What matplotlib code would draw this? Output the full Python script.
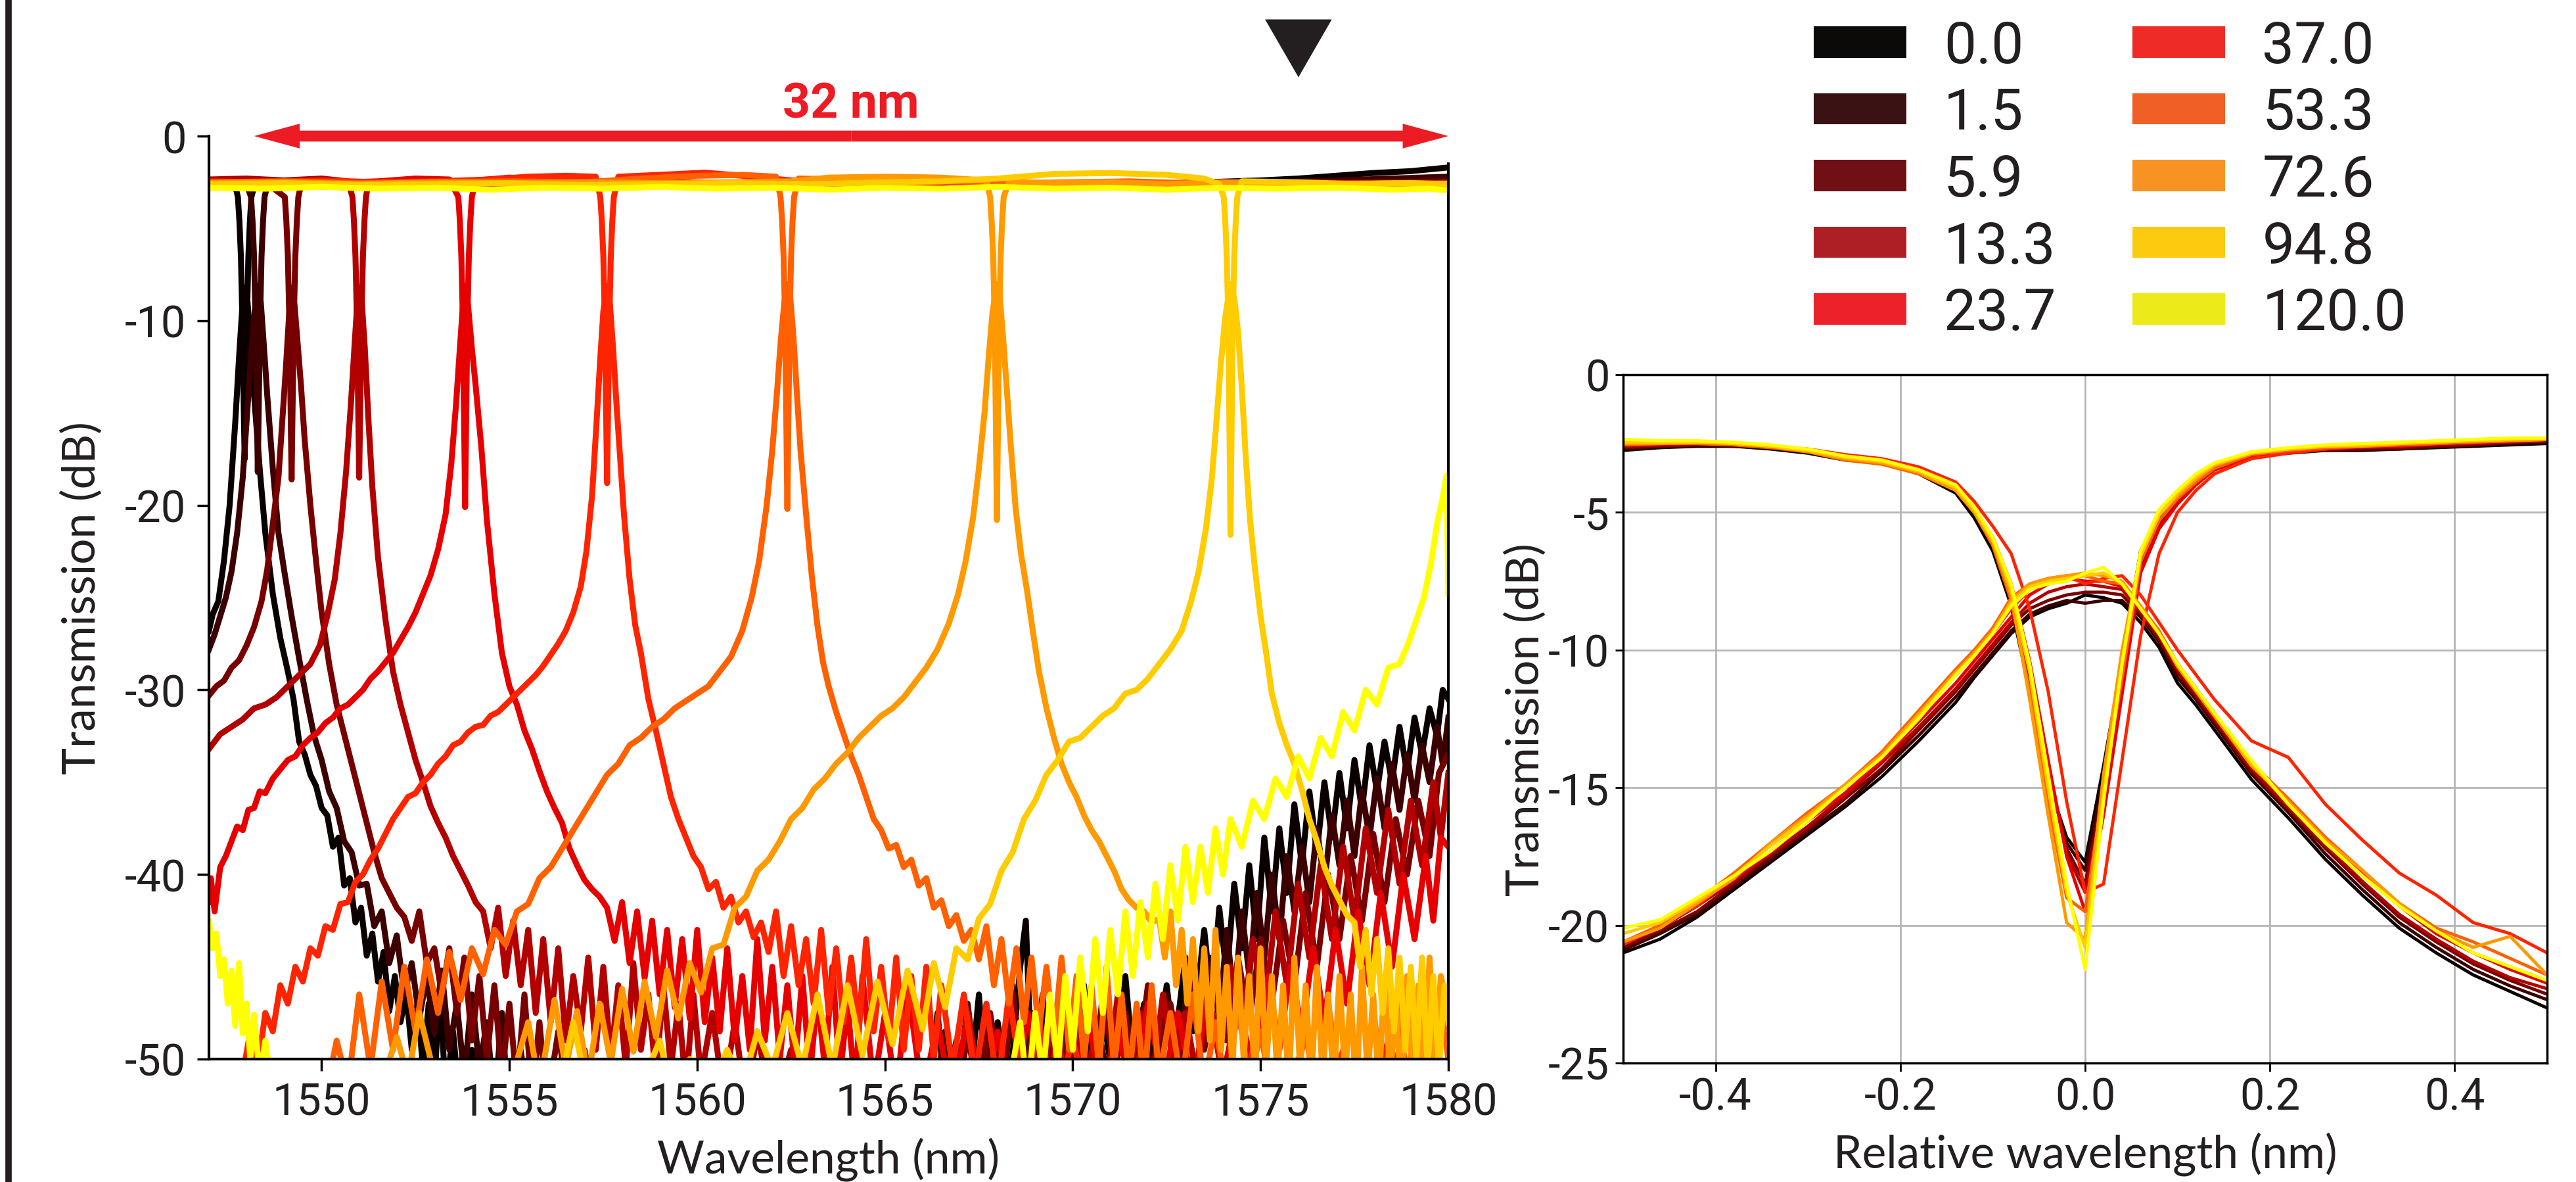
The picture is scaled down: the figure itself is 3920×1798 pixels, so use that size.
import matplotlib
matplotlib.use("Agg")
import matplotlib.pyplot as plt
from matplotlib import font_manager
from matplotlib.patches import Patch, FancyArrowPatch, ArrowStyle
from matplotlib.lines import Line2D


# Settings
# -----------------------------------------------------------------------------

available = {f.name for f in font_manager.fontManager.ttflist}
narrow = "Liberation Sans Narrow" if "Liberation Sans Narrow" in available else "Roboto"
label_font = "Lato"
ink = "#231f20"
red = "#ed1c24"
plt.rcParams["axes.unicode_minus"] = False


# Data
# -----------------------------------------------------------------------------

series = ["0.0", "1.5", "5.9", "13.3", "23.7", "37.0", "53.3", "72.6", "94.8", "120.0"]
line_colors = ["#0a0000", "#3d0000", "#780000", "#b30000", "#e60000",
               "#ff2400", "#ff6000", "#ff9900", "#ffcc00", "#ffff00"]
legend_colors = ["#0b0a08", "#3a1214", "#701014", "#ad1f24", "#ed2129",
                 "#ee2b27", "#f05f26", "#f69322", "#fcca0f", "#edea1a"]

# left panel: drop port (wavelength nm, dB)
drop_00 = [(1547.0, -26.8), (1547.1, -25.9), (1547.25, -25.2), (1547.4, -23.0), (1547.55, -20.0),
           (1547.7, -15.5), (1547.8, -12.0), (1547.88, -9.5), (1547.95, -8.2), (1548.02, -8.8),
           (1548.1, -11.0), (1548.2, -14.0), (1548.35, -18.0), (1548.5, -21.5), (1548.7, -24.8),
           (1548.9, -27.2), (1549.1, -29.0), (1549.25, -30.5), (1549.4, -32.8), (1549.55, -33.5),
           (1549.7, -34.6), (1549.85, -35.2), (1550.0, -36.4), (1550.15, -36.8), (1550.3, -38.5),
           (1550.45, -38.0), (1550.6, -40.6), (1550.75, -40.2), (1550.9, -42.6), (1551.05, -41.8),
           (1551.2, -44.4), (1551.35, -43.2), (1551.5, -45.8), (1551.65, -44.2), (1551.8, -47.4),
           (1551.95, -45.5), (1552.1, -48.0), (1552.25, -46.4), (1552.4, -49.5), (1552.55, -47.0),
           (1552.7, -50.5), (1552.85, -47.0), (1553.0, -51.5), (1553.15, -46.0), (1553.3, -52.0),
           (1553.5, -48.5), (1553.7, -53.0), (1554.0, -49.5), (1554.3, -54.0), (1554.8, -50.5),
           (1555.3, -55.0), (1556.2, -52.0), (1557.0, -56.0), (1558.0, -53.0), (1559.0, -56.0),
           (1560.0, -52.0), (1561.0, -55.0), (1562.0, -51.5), (1563.0, -54.0), (1564.0, -51.0),
           (1565.0, -53.0), (1565.8, -50.5), (1566.1, -52.5), (1566.4, -47.5), (1566.6, -52.0),
           (1566.9, -49.0), (1567.2, -53.0), (1567.5, -46.5), (1567.7, -51.5), (1568.0, -48.0),
           (1568.3, -52.0), (1568.6, -45.0), (1568.75, -42.5), (1568.9, -50.5), (1569.2, -46.5),
           (1569.4, -51.5), (1569.7, -47.5), (1570.0, -52.0), (1570.3, -46.0), (1570.5, -50.5),
           (1570.8, -47.5), (1571.1, -51.5), (1571.4, -45.5), (1571.6, -50.0), (1571.9, -47.0),
           (1572.2, -51.0), (1572.5, -46.0), (1572.7, -49.5), (1573.0, -44.5), (1573.2, -48.5),
           (1573.5, -43.0), (1573.7, -47.0), (1573.9, -41.8), (1574.1, -45.5), (1574.3, -40.5),
           (1574.5, -44.0), (1574.7, -39.5), (1574.9, -43.5), (1575.1, -38.0), (1575.3, -42.0),
           (1575.5, -37.5), (1575.7, -41.0), (1575.9, -36.2), (1576.1, -39.5), (1576.3, -35.5),
           (1576.5, -38.8), (1576.7, -35.0), (1576.9, -38.0), (1577.1, -34.5), (1577.3, -37.5),
           (1577.5, -33.8), (1577.7, -36.5), (1577.9, -33.0), (1578.1, -35.5), (1578.3, -32.8),
           (1578.5, -35.0), (1578.7, -32.0), (1578.9, -34.5), (1579.1, -31.5), (1579.3, -33.5),
           (1579.5, -31.0), (1579.7, -32.5), (1579.85, -30.0), (1580.0, -30.5)]
drop_15 = [(1547.0, -27.8), (1547.15, -27.0), (1547.3, -26.0), (1547.45, -25.0), (1547.6, -23.6),
           (1547.75, -21.5), (1547.9, -18.5), (1548.0, -15.5), (1548.1, -12.5), (1548.2, -9.8),
           (1548.3, -8.1), (1548.38, -9.0), (1548.45, -11.0), (1548.55, -14.0), (1548.7, -18.0),
           (1548.85, -21.5), (1549.0, -23.5), (1549.2, -26.0), (1549.4, -28.3), (1549.6, -30.5),
           (1549.8, -32.5), (1550.0, -33.8), (1550.2, -35.5), (1550.4, -36.4), (1550.6, -38.2),
           (1550.8, -38.8), (1551.0, -40.6), (1551.2, -40.5), (1551.4, -42.8), (1551.6, -42.0),
           (1551.8, -44.8), (1552.0, -43.3), (1552.2, -46.5), (1552.4, -44.8), (1552.6, -47.8),
           (1552.8, -45.5), (1553.0, -48.6), (1553.2, -45.2), (1553.4, -49.5), (1553.6, -47.0),
           (1553.8, -51.0), (1554.0, -46.5), (1554.2, -50.5), (1554.4, -48.0), (1554.6, -52.5),
           (1554.8, -47.5), (1555.0, -53.5), (1555.3, -49.5), (1555.6, -54.0), (1556.2, -51.0),
           (1557.0, -55.0), (1558.0, -52.0), (1559.0, -55.5), (1560.0, -52.5), (1561.0, -56.0),
           (1562.0, -53.0), (1563.0, -55.0), (1564.0, -52.0), (1565.0, -54.0), (1565.8, -51.0),
           (1566.2, -53.5), (1566.6, -48.5), (1566.9, -52.5), (1567.2, -47.0), (1567.5, -52.0),
           (1567.8, -49.0), (1568.1, -53.0), (1568.4, -46.0), (1568.6, -51.0), (1568.9, -47.5),
           (1569.2, -52.0), (1569.5, -48.0), (1569.8, -51.5), (1570.1, -46.5), (1570.4, -51.0),
           (1570.7, -48.5), (1571.0, -52.0), (1571.3, -47.0), (1571.6, -50.5), (1571.9, -48.0),
           (1572.2, -51.5), (1572.5, -46.5), (1572.8, -50.0), (1573.1, -45.5), (1573.4, -49.0),
           (1573.7, -44.5), (1573.9, -48.0), (1574.1, -43.0), (1574.3, -47.0), (1574.5, -42.0),
           (1574.7, -45.5), (1574.9, -41.0), (1575.1, -44.5), (1575.3, -40.0), (1575.5, -43.5),
           (1575.7, -39.0), (1575.9, -42.0), (1576.1, -38.5), (1576.3, -41.5), (1576.5, -37.5),
           (1576.7, -40.5), (1576.9, -36.8), (1577.1, -39.5), (1577.3, -36.0), (1577.5, -39.0),
           (1577.7, -35.5), (1577.9, -38.0), (1578.1, -34.8), (1578.3, -37.5), (1578.5, -34.0),
           (1578.7, -36.5), (1578.9, -33.5), (1579.1, -36.0), (1579.3, -33.0), (1579.5, -35.0),
           (1579.7, -32.0), (1579.85, -34.0), (1580.0, -31.5)]
drop_59 = [(1547.0, -30.3), (1547.2, -29.8), (1547.4, -29.5), (1547.6, -28.8), (1547.8, -28.4),
           (1548.0, -27.6), (1548.2, -26.6), (1548.4, -25.2), (1548.55, -23.5), (1548.7, -21.0),
           (1548.85, -18.5), (1548.95, -15.5), (1549.05, -12.5), (1549.13, -9.8), (1549.2, -8.2),
           (1549.28, -9.2), (1549.36, -11.2), (1549.45, -13.5), (1549.55, -16.5), (1549.7, -20.0),
           (1549.85, -23.0), (1550.0, -25.8), (1550.2, -28.6), (1550.4, -30.8), (1550.6, -32.4),
           (1550.8, -34.0), (1551.0, -35.6), (1551.2, -37.2), (1551.4, -38.8), (1551.6, -40.2),
           (1551.8, -41.0), (1552.0, -41.8), (1552.2, -42.3), (1552.4, -43.6), (1552.6, -42.0),
           (1552.8, -44.8), (1553.0, -44.0), (1553.2, -46.5), (1553.4, -44.0), (1553.6, -47.5),
           (1553.8, -44.5), (1554.0, -49.0), (1554.2, -45.5), (1554.4, -50.0), (1554.6, -46.0),
           (1554.8, -51.0), (1555.0, -47.0), (1555.2, -51.5), (1555.4, -46.5), (1555.6, -52.0),
           (1555.8, -48.0), (1556.0, -52.5), (1556.3, -48.5), (1556.6, -53.0), (1557.0, -49.5),
           (1557.4, -54.0), (1557.8, -50.5), (1558.3, -54.0), (1559.0, -51.5), (1560.0, -55.0),
           (1561.0, -52.5), (1562.0, -55.5), (1563.0, -52.5), (1564.0, -55.0), (1565.0, -52.0),
           (1566.0, -54.0), (1566.6, -50.5), (1566.9, -53.0), (1567.2, -48.5), (1567.5, -52.5),
           (1567.8, -47.5), (1568.1, -51.5), (1568.4, -46.5), (1568.7, -51.0), (1569.0, -48.0),
           (1569.3, -52.0), (1569.6, -47.0), (1569.9, -51.0), (1570.2, -48.5), (1570.5, -52.0),
           (1570.8, -46.5), (1571.1, -50.5), (1571.4, -47.5), (1571.7, -51.0), (1572.0, -46.0),
           (1572.3, -50.0), (1572.6, -47.0), (1572.9, -50.5), (1573.2, -45.5), (1573.5, -49.5),
           (1573.8, -46.0), (1574.1, -49.0), (1574.4, -44.5), (1574.7, -48.0), (1575.0, -43.5),
           (1575.3, -47.0), (1575.6, -42.5), (1575.9, -46.0), (1576.2, -41.0), (1576.5, -45.0),
           (1576.8, -40.0), (1577.1, -43.5), (1577.4, -39.0), (1577.7, -42.5), (1578.0, -37.8),
           (1578.3, -41.5), (1578.6, -37.0), (1578.9, -40.0), (1579.2, -36.0), (1579.5, -39.0),
           (1579.75, -34.5), (1580.0, -33.5)]
drop_133 = [(1547.0, -33.2), (1547.3, -32.4), (1547.6, -32.0), (1547.9, -31.6), (1548.2, -31.0),
            (1548.5, -30.8), (1548.8, -30.4), (1549.1, -29.8), (1549.4, -29.2), (1549.7, -28.6),
            (1549.95, -27.6), (1550.15, -26.0), (1550.35, -24.0), (1550.5, -21.5), (1550.65, -18.2),
            (1550.78, -14.5), (1550.88, -11.2), (1550.95, -9.0), (1551.0, -8.2), (1551.07, -9.0),
            (1551.15, -11.5), (1551.25, -15.5), (1551.35, -19.0), (1551.5, -22.8), (1551.7, -26.2),
            (1551.9, -29.0), (1552.1, -30.8), (1552.3, -32.3), (1552.5, -33.8), (1552.7, -35.0),
            (1552.9, -36.3), (1553.1, -37.2), (1553.3, -38.0), (1553.5, -39.0), (1553.7, -39.8),
            (1553.9, -40.6), (1554.1, -41.5), (1554.3, -42.0), (1554.5, -44.0), (1554.7, -41.8),
            (1554.9, -45.5), (1555.1, -42.5), (1555.3, -46.0), (1555.5, -43.0), (1555.7, -47.5),
            (1555.9, -43.5), (1556.1, -48.0), (1556.3, -44.0), (1556.5, -49.0), (1556.7, -45.5),
            (1556.9, -48.5), (1557.1, -44.5), (1557.3, -49.5), (1557.5, -45.0), (1557.7, -50.0),
            (1557.9, -46.0), (1558.1, -50.5), (1558.3, -44.8), (1558.5, -49.5), (1558.7, -46.5),
            (1558.9, -51.0), (1559.1, -46.0), (1559.3, -50.5), (1559.5, -47.0), (1559.7, -51.5),
            (1559.9, -46.5), (1560.1, -51.0), (1560.4, -47.5), (1560.7, -52.0), (1561.0, -48.0),
            (1561.3, -52.5), (1561.6, -48.5), (1562.0, -53.0), (1562.5, -49.5), (1563.0, -53.5),
            (1563.6, -50.0), (1564.2, -54.0), (1565.0, -51.0), (1566.0, -54.5), (1567.0, -51.5),
            (1568.0, -54.0), (1568.8, -50.0), (1569.1, -53.0), (1569.4, -48.0), (1569.7, -52.5),
            (1570.0, -47.5), (1570.3, -52.0), (1570.6, -48.5), (1570.9, -51.5), (1571.2, -46.5),
            (1571.5, -51.0), (1571.8, -47.5), (1572.1, -51.5), (1572.4, -46.5), (1572.7, -50.5),
            (1573.0, -47.5), (1573.3, -51.0), (1573.6, -46.0), (1573.9, -50.0), (1574.2, -45.0),
            (1574.5, -48.5), (1574.8, -43.5), (1575.1, -47.5), (1575.4, -42.0), (1575.7, -46.0),
            (1576.0, -40.5), (1576.3, -44.5), (1576.6, -39.5), (1576.9, -43.5), (1577.2, -38.5),
            (1577.5, -42.5), (1577.8, -37.5), (1578.1, -41.0), (1578.4, -36.5), (1578.7, -40.5),
            (1579.0, -36.0), (1579.3, -39.5), (1579.6, -35.0), (1579.8, -38.0), (1580.0, -34.5)]
drop_237 = [(1547.0, -41.5), (1547.05, -40.2), (1547.15, -42.0), (1547.3, -39.6), (1547.45, -39.0),
            (1547.6, -38.2), (1547.75, -37.4), (1547.9, -37.6), (1548.05, -36.5), (1548.2, -36.4),
            (1548.35, -35.5), (1548.5, -35.6), (1548.7, -34.8), (1548.9, -34.3), (1549.1, -33.8),
            (1549.3, -33.6), (1549.5, -33.0), (1549.7, -32.6), (1549.9, -32.3), (1550.1, -31.8),
            (1550.3, -31.5), (1550.5, -31.0), (1550.7, -30.8), (1550.9, -30.4), (1551.1, -30.0),
            (1551.3, -29.4), (1551.5, -29.0), (1551.7, -28.5), (1551.9, -28.0), (1552.1, -27.3),
            (1552.3, -26.6), (1552.5, -25.8), (1552.7, -24.8), (1552.9, -23.8), (1553.1, -22.4),
            (1553.3, -20.5), (1553.45, -17.8), (1553.58, -14.5), (1553.68, -11.5), (1553.76, -9.2),
            (1553.82, -8.1), (1553.9, -9.2), (1554.0, -11.5), (1554.1, -13.5), (1554.25, -16.8),
            (1554.4, -20.8), (1554.6, -24.8), (1554.8, -28.0), (1555.0, -29.8), (1555.2, -30.8),
            (1555.4, -32.2), (1555.6, -33.2), (1555.8, -34.4), (1556.0, -35.5), (1556.2, -36.4),
            (1556.4, -37.2), (1556.6, -38.6), (1556.8, -39.5), (1557.0, -40.3), (1557.2, -40.8),
            (1557.4, -41.2), (1557.6, -41.8), (1557.8, -43.6), (1558.0, -41.5), (1558.2, -44.8),
            (1558.4, -42.0), (1558.6, -45.6), (1558.8, -42.5), (1559.0, -46.5), (1559.2, -43.0),
            (1559.4, -47.2), (1559.6, -43.5), (1559.8, -47.8), (1560.0, -43.0), (1560.2, -48.0),
            (1560.4, -44.5), (1560.6, -48.5), (1560.8, -44.0), (1561.0, -49.0), (1561.2, -45.5),
            (1561.4, -49.5), (1561.6, -43.5), (1561.8, -49.0), (1562.0, -45.0), (1562.2, -50.0),
            (1562.4, -46.0), (1562.6, -50.5), (1562.8, -45.5), (1563.0, -51.0), (1563.2, -46.5),
            (1563.4, -50.5), (1563.6, -45.0), (1563.8, -51.0), (1564.0, -47.0), (1564.2, -51.5),
            (1564.4, -45.5), (1564.7, -51.5), (1565.0, -47.5), (1565.3, -52.0), (1565.6, -46.0),
            (1566.0, -52.0), (1566.4, -48.0), (1566.8, -52.5), (1567.2, -47.5), (1567.6, -52.5),
            (1568.0, -48.5), (1568.4, -53.0), (1568.8, -47.5), (1569.2, -52.5), (1569.6, -49.0),
            (1570.0, -53.0), (1570.4, -47.5), (1570.8, -52.5), (1571.2, -48.5), (1571.6, -52.0),
            (1572.0, -47.0), (1572.4, -51.5), (1572.8, -47.5), (1573.2, -51.5), (1573.6, -46.5),
            (1574.0, -51.0), (1574.4, -47.0), (1574.8, -50.5), (1575.2, -45.5), (1575.5, -49.5),
            (1575.8, -45.0), (1576.1, -48.5), (1576.4, -44.0), (1576.7, -48.0), (1577.0, -43.0),
            (1577.3, -47.0), (1577.6, -42.0), (1577.9, -46.0), (1578.2, -41.0), (1578.5, -45.0),
            (1578.8, -40.0), (1579.1, -43.5), (1579.4, -39.0), (1579.6, -42.5), (1579.8, -38.0),
            (1580.0, -38.5)]
drop_370 = [(1547.0, -53.0), (1547.5, -50.5), (1547.8, -52.0), (1548.1, -48.5), (1548.3, -50.5),
            (1548.5, -47.5), (1548.7, -48.5), (1548.9, -46.0), (1549.1, -47.0), (1549.3, -45.0),
            (1549.5, -45.8), (1549.7, -44.0), (1549.9, -44.4), (1550.1, -42.8), (1550.3, -43.0),
            (1550.5, -41.6), (1550.7, -41.5), (1550.9, -40.4), (1551.1, -40.0), (1551.3, -39.2),
            (1551.5, -38.6), (1551.7, -37.8), (1551.9, -37.0), (1552.1, -36.4), (1552.3, -35.8),
            (1552.5, -35.6), (1552.7, -35.0), (1552.9, -34.6), (1553.1, -34.0), (1553.3, -33.6),
            (1553.5, -33.0), (1553.7, -32.8), (1553.9, -32.3), (1554.1, -32.0), (1554.3, -31.9),
            (1554.5, -31.4), (1554.7, -31.2), (1554.9, -30.8), (1555.1, -30.4), (1555.3, -30.0),
            (1555.5, -29.6), (1555.7, -29.2), (1555.9, -28.7), (1556.1, -28.1), (1556.3, -27.5),
            (1556.5, -26.8), (1556.7, -25.8), (1556.9, -24.4), (1557.05, -22.5), (1557.2, -19.5),
            (1557.32, -15.5), (1557.42, -12.0), (1557.5, -9.5), (1557.6, -8.1), (1557.68, -9.2),
            (1557.76, -11.5), (1557.85, -14.5), (1557.95, -17.5), (1558.05, -20.5), (1558.2, -24.0),
            (1558.35, -26.5), (1558.5, -28.0), (1558.7, -30.5), (1558.9, -32.2), (1559.1, -34.0),
            (1559.3, -35.8), (1559.5, -37.0), (1559.7, -38.0), (1559.9, -39.0), (1560.1, -39.6),
            (1560.3, -40.8), (1560.5, -40.4), (1560.7, -41.8), (1560.9, -41.2), (1561.1, -42.6),
            (1561.3, -42.0), (1561.5, -43.4), (1561.7, -42.6), (1561.9, -44.2), (1562.1, -42.0),
            (1562.3, -45.5), (1562.5, -42.8), (1562.7, -46.0), (1562.9, -43.5), (1563.1, -47.0),
            (1563.3, -43.0), (1563.5, -47.5), (1563.7, -44.0), (1563.9, -48.0), (1564.1, -44.5),
            (1564.3, -48.5), (1564.5, -43.5), (1564.7, -48.5), (1564.9, -45.0), (1565.1, -49.0),
            (1565.3, -44.5), (1565.5, -49.5), (1565.7, -45.5), (1565.9, -49.5), (1566.1, -45.0),
            (1566.3, -50.0), (1566.5, -46.0), (1566.8, -50.5), (1567.1, -46.5), (1567.4, -51.0),
            (1567.7, -47.0), (1568.0, -51.5), (1568.3, -46.5), (1568.7, -52.0), (1569.1, -48.0),
            (1569.5, -52.5), (1570.0, -49.0), (1570.5, -53.0), (1571.0, -50.0), (1571.6, -53.5),
            (1572.2, -50.5), (1573.0, -54.0), (1573.6, -50.5), (1574.2, -53.5), (1574.8, -49.5),
            (1575.4, -53.0), (1576.0, -50.0), (1576.6, -53.5), (1577.2, -49.5), (1577.8, -53.0),
            (1578.4, -49.0), (1579.0, -52.5), (1579.5, -48.5), (1580.0, -51.5)]
drop_533 = [(1547.0, -55.0), (1548.0, -53.0), (1549.0, -54.0), (1549.6, -51.0), (1550.0, -53.0),
            (1550.4, -49.0), (1550.7, -51.5), (1551.0, -46.5), (1551.3, -50.5), (1551.6, -45.8),
            (1551.9, -49.5), (1552.2, -45.0), (1552.5, -48.5), (1552.8, -44.6), (1553.1, -47.5),
            (1553.4, -44.2), (1553.7, -46.8), (1554.0, -44.0), (1554.3, -45.4), (1554.6, -43.0),
            (1554.9, -43.8), (1555.2, -42.0), (1555.5, -41.6), (1555.8, -40.2), (1556.1, -39.6),
            (1556.4, -38.6), (1556.7, -37.6), (1557.0, -36.6), (1557.3, -35.6), (1557.6, -34.6),
            (1557.9, -34.0), (1558.2, -33.0), (1558.5, -32.6), (1558.8, -32.0), (1559.1, -31.6),
            (1559.4, -31.0), (1559.7, -30.6), (1560.0, -30.2), (1560.3, -29.8), (1560.6, -29.0),
            (1560.9, -28.2), (1561.2, -26.8), (1561.45, -25.0), (1561.65, -23.0), (1561.85, -20.0),
            (1562.0, -17.0), (1562.12, -14.0), (1562.22, -11.2), (1562.32, -9.0), (1562.4, -8.0),
            (1562.48, -8.8), (1562.56, -10.8), (1562.65, -13.8), (1562.75, -17.0), (1562.9, -20.5),
            (1563.05, -23.8), (1563.2, -26.5), (1563.35, -28.5), (1563.5, -29.8), (1563.7, -31.2),
            (1563.9, -32.4), (1564.1, -33.6), (1564.3, -34.6), (1564.5, -35.8), (1564.7, -37.0),
            (1564.9, -37.6), (1565.1, -38.6), (1565.3, -38.4), (1565.5, -39.6), (1565.7, -39.2),
            (1565.9, -40.6), (1566.1, -40.2), (1566.3, -41.8), (1566.5, -41.4), (1566.7, -42.8),
            (1566.9, -42.2), (1567.1, -43.6), (1567.3, -43.0), (1567.5, -44.6), (1567.7, -42.8),
            (1567.9, -46.0), (1568.1, -43.5), (1568.3, -47.0), (1568.5, -44.0), (1568.7, -48.0),
            (1568.9, -44.5), (1569.1, -48.5), (1569.3, -45.0), (1569.5, -49.0), (1569.7, -44.5),
            (1569.9, -49.5), (1570.1, -45.5), (1570.3, -50.0), (1570.5, -46.0), (1570.7, -50.5),
            (1570.9, -45.0), (1571.1, -50.5), (1571.3, -46.5), (1571.5, -51.0), (1571.7, -47.0),
            (1571.9, -51.5), (1572.1, -46.0), (1572.3, -51.0), (1572.6, -47.5), (1572.9, -51.5),
            (1573.2, -46.5), (1573.5, -51.5), (1573.8, -48.0), (1574.1, -52.0), (1574.4, -47.0),
            (1574.7, -51.5), (1575.0, -48.5), (1575.3, -52.0), (1575.6, -47.5), (1575.9, -51.5),
            (1576.2, -48.5), (1576.5, -52.5), (1576.8, -47.0), (1577.1, -51.0), (1577.4, -48.0),
            (1577.7, -52.0), (1578.0, -47.5), (1578.3, -51.5), (1578.6, -46.5), (1578.9, -51.0),
            (1579.2, -47.5), (1579.5, -51.5), (1579.8, -47.0), (1580.0, -50.0)]
drop_726 = [(1547.0, -56.0), (1550.0, -54.0), (1551.5, -52.0), (1552.0, -48.8), (1552.3, -51.0),
            (1552.6, -47.5), (1552.9, -50.0), (1553.3, -52.0), (1554.0, -54.0), (1555.0, -51.5),
            (1555.5, -48.0), (1555.8, -51.5), (1556.2, -46.8), (1556.5, -50.5), (1556.8, -47.4),
            (1557.1, -51.0), (1557.4, -47.0), (1557.7, -50.2), (1558.0, -46.2), (1558.3, -49.6),
            (1558.6, -45.8), (1558.9, -48.8), (1559.2, -45.2), (1559.5, -47.8), (1559.8, -44.8),
            (1560.1, -46.4), (1560.4, -44.0), (1560.7, -43.8), (1561.0, -41.8), (1561.3, -41.2),
            (1561.6, -39.8), (1561.9, -39.2), (1562.2, -38.2), (1562.5, -37.0), (1562.8, -36.4),
            (1563.1, -35.4), (1563.4, -34.8), (1563.7, -34.0), (1564.0, -33.4), (1564.3, -32.6),
            (1564.6, -32.0), (1564.9, -31.4), (1565.2, -31.0), (1565.5, -30.4), (1565.8, -29.6),
            (1566.1, -28.8), (1566.4, -27.8), (1566.7, -26.4), (1566.95, -24.8), (1567.15, -23.0),
            (1567.35, -20.6), (1567.5, -18.0), (1567.65, -15.0), (1567.76, -12.0), (1567.86, -9.6),
            (1567.98, -8.0), (1568.06, -8.8), (1568.14, -10.8), (1568.24, -13.6), (1568.35, -16.8),
            (1568.48, -20.2), (1568.62, -22.6), (1568.78, -24.6), (1568.95, -27.0), (1569.1, -29.0),
            (1569.3, -31.0), (1569.5, -32.6), (1569.7, -34.0), (1569.9, -35.0), (1570.1, -35.8),
            (1570.3, -36.8), (1570.5, -37.6), (1570.7, -38.2), (1570.9, -39.0), (1571.1, -39.8),
            (1571.3, -40.8), (1571.5, -41.4), (1571.7, -41.8), (1571.9, -42.0), (1572.1, -42.6),
            (1572.3, -42.4), (1572.45, -44.5), (1572.6, -42.0), (1572.75, -46.0), (1572.9, -43.0),
            (1573.05, -47.0), (1573.2, -43.5), (1573.35, -48.5), (1573.5, -44.0), (1573.65, -49.0),
            (1573.8, -43.0), (1573.95, -49.5), (1574.1, -45.0), (1574.25, -50.5), (1574.4, -44.5),
            (1574.55, -50.0), (1574.7, -45.5), (1574.85, -51.0), (1575.0, -44.0), (1575.15, -50.5),
            (1575.3, -45.5), (1575.45, -51.0), (1575.6, -46.0), (1575.75, -51.5), (1575.9, -44.5),
            (1576.05, -50.5), (1576.2, -46.0), (1576.35, -51.5), (1576.5, -45.0), (1576.65, -51.0),
            (1576.8, -46.5), (1576.95, -51.5), (1577.1, -45.5), (1577.25, -51.0), (1577.4, -46.5),
            (1577.55, -52.0), (1577.7, -45.0), (1577.85, -51.0), (1578.0, -46.5), (1578.15, -51.5),
            (1578.3, -45.5), (1578.45, -51.0), (1578.6, -47.0), (1578.75, -52.0), (1578.9, -45.5),
            (1579.05, -51.0), (1579.2, -46.0), (1579.35, -51.5), (1579.5, -44.5), (1579.65, -50.5),
            (1579.8, -45.5), (1580.0, -47.4)]
drop_948 = [(1547.0, -56.0), (1552.0, -54.0), (1555.0, -52.0), (1556.0, -50.5), (1556.3, -52.0),
            (1556.7, -48.0), (1557.0, -51.0), (1557.5, -53.0), (1558.5, -51.5), (1559.0, -49.0),
            (1559.3, -51.5), (1559.8, -50.0), (1560.3, -52.0), (1560.8, -49.5), (1561.2, -51.5),
            (1561.6, -48.5), (1562.0, -50.5), (1562.4, -47.5), (1562.8, -50.5), (1563.2, -46.5),
            (1563.6, -50.5), (1564.0, -46.0), (1564.4, -49.8), (1564.8, -45.8), (1565.2, -49.2),
            (1565.6, -45.2), (1566.0, -48.4), (1566.3, -44.8), (1566.6, -47.2), (1566.9, -44.0),
            (1567.2, -44.6), (1567.5, -42.4), (1567.8, -41.6), (1568.1, -39.8), (1568.4, -38.8),
            (1568.7, -37.0), (1569.0, -36.0), (1569.3, -34.6), (1569.6, -33.8), (1569.9, -32.8),
            (1570.2, -32.6), (1570.5, -32.0), (1570.8, -31.4), (1571.1, -31.0), (1571.4, -30.2),
            (1571.7, -30.0), (1572.0, -29.4), (1572.3, -28.6), (1572.6, -27.8), (1572.9, -26.8),
            (1573.15, -25.2), (1573.35, -23.6), (1573.55, -21.2), (1573.7, -18.6), (1573.82, -15.6),
            (1573.94, -12.4), (1574.06, -9.8), (1574.2, -8.0), (1574.3, -8.8), (1574.4, -10.6),
            (1574.5, -13.6), (1574.6, -17.2), (1574.72, -20.8), (1574.86, -23.6), (1575.0, -26.0),
            (1575.15, -28.0), (1575.3, -30.2), (1575.5, -31.8), (1575.7, -33.0), (1575.9, -34.0),
            (1576.1, -35.4), (1576.3, -37.0), (1576.5, -38.2), (1576.7, -39.6), (1576.9, -40.6),
            (1577.1, -41.4), (1577.3, -42.2), (1577.5, -42.6), (1577.65, -45.0), (1577.8, -43.0),
            (1577.95, -46.5), (1578.1, -43.5), (1578.25, -47.5), (1578.4, -44.0), (1578.55, -48.5),
            (1578.7, -44.5), (1578.85, -49.5), (1579.0, -45.0), (1579.15, -50.0), (1579.3, -44.5),
            (1579.45, -50.5), (1579.6, -45.5), (1579.75, -50.5), (1579.9, -46.0), (1580.0, -48.0)]
drop_1200 = [(1547.0, -42.5), (1547.1, -44.0), (1547.2, -43.2), (1547.3, -45.5), (1547.4, -44.6),
             (1547.5, -47.0), (1547.6, -45.2), (1547.7, -48.2), (1547.8, -44.8), (1547.9, -48.6),
             (1548.0, -47.0), (1548.1, -50.0), (1548.2, -47.6), (1548.35, -51.0), (1548.5, -49.0),
             (1548.7, -52.0), (1549.0, -50.5), (1549.4, -53.0), (1550.0, -55.0), (1553.0, -56.0),
             (1556.0, -55.0), (1560.0, -56.0), (1563.0, -54.0), (1564.5, -52.0), (1565.5, -50.2),
             (1566.0, -52.5), (1566.8, -51.0), (1567.5, -53.0), (1568.3, -51.5), (1568.6, -48.0),
             (1568.8, -52.0), (1569.0, -47.5), (1569.2, -51.0), (1569.4, -46.5), (1569.6, -50.5),
             (1569.8, -45.5), (1570.0, -49.5), (1570.2, -44.5), (1570.4, -48.5), (1570.6, -43.5),
             (1570.8, -47.5), (1571.0, -43.0), (1571.2, -46.5), (1571.4, -42.0), (1571.6, -45.5),
             (1571.8, -41.5), (1572.0, -44.5), (1572.2, -40.5), (1572.4, -43.5), (1572.6, -39.5),
             (1572.8, -42.5), (1573.0, -38.5), (1573.2, -41.5), (1573.4, -38.5), (1573.6, -41.0),
             (1573.8, -37.5), (1574.0, -40.0), (1574.2, -37.0), (1574.5, -38.5), (1574.8, -36.0),
             (1575.1, -37.0), (1575.4, -34.8), (1575.7, -35.8), (1576.0, -33.6), (1576.3, -34.8),
             (1576.6, -32.6), (1576.9, -33.6), (1577.2, -31.2), (1577.5, -32.2), (1577.8, -30.0),
             (1578.1, -30.8), (1578.4, -28.8), (1578.7, -28.6), (1578.95, -27.4), (1579.15, -26.2),
             (1579.35, -25.0), (1579.55, -23.0), (1579.7, -21.0), (1579.85, -19.6), (1579.95, -18.4),
             (1580.0, -24.8)]

# left panel: through port (wavelength nm, dB)
thru_00 = [(1547.0, -2.62), (1547.4, -2.55), (1547.7, -2.7), (1547.77, -3.3), (1547.81, -4.6),
           (1547.85, -6.5), (1547.89, -10.0), (1547.92, -14.0), (1547.95, -17.5), (1547.98, -14.0),
           (1548.01, -10.0), (1548.05, -6.5), (1548.09, -4.6), (1548.13, -3.3), (1548.2, -2.75),
           (1549.5, -2.7), (1551.0, -2.8), (1552.5, -2.65), (1554.0, -2.8), (1555.5, -2.7),
           (1557.0, -2.75), (1558.5, -2.65), (1560.0, -2.75), (1561.5, -2.7), (1563.0, -2.65),
           (1564.5, -2.75), (1566.0, -2.7), (1567.5, -2.6), (1569.0, -2.7), (1570.5, -2.65),
           (1572.0, -2.6), (1573.5, -2.5), (1575.0, -2.4), (1576.0, -2.3), (1577.0, -2.15),
           (1578.0, -2.0), (1579.0, -1.9), (1580.0, -1.7)]
thru_15 = [(1547.0, -2.55), (1547.5, -2.65), (1548.0, -2.6), (1548.12, -3.3), (1548.16, -4.6),
           (1548.2, -6.5), (1548.24, -10.0), (1548.27, -14.0), (1548.3, -18.2), (1548.33, -14.0),
           (1548.36, -10.0), (1548.4, -6.5), (1548.44, -4.6), (1548.48, -3.3), (1548.55, -2.7),
           (1550.0, -2.65), (1551.5, -2.75), (1553.0, -2.6), (1554.5, -2.7), (1556.0, -2.65),
           (1557.5, -2.75), (1559.0, -2.6), (1560.5, -2.7), (1562.0, -2.65), (1563.5, -2.7),
           (1565.0, -2.6), (1566.5, -2.7), (1568.0, -2.65), (1569.5, -2.6), (1571.0, -2.7),
           (1572.5, -2.6), (1574.0, -2.55), (1575.5, -2.5), (1577.0, -2.4), (1578.5, -2.3),
           (1580.0, -2.2)]
thru_59 = [(1547.0, -2.6), (1547.8, -2.55), (1548.6, -2.65), (1549.02, -3.3), (1549.06, -4.6),
           (1549.1, -6.5), (1549.14, -10.0), (1549.17, -14.2), (1549.2, -18.6), (1549.23, -14.2),
           (1549.26, -10.0), (1549.3, -6.5), (1549.34, -4.6), (1549.38, -3.3), (1549.45, -2.65),
           (1551.0, -2.55), (1552.5, -2.65), (1554.0, -2.6), (1555.5, -2.7), (1557.0, -2.6),
           (1558.5, -2.65), (1560.0, -2.55), (1561.5, -2.65), (1563.0, -2.6), (1564.5, -2.7),
           (1566.0, -2.6), (1567.5, -2.65), (1569.0, -2.55), (1570.5, -2.65), (1572.0, -2.6),
           (1573.5, -2.55), (1575.0, -2.6), (1576.5, -2.5), (1578.0, -2.5), (1580.0, -2.45)]
thru_133 = [(1547.0, -2.35), (1548.0, -2.3), (1549.0, -2.4), (1550.0, -2.3), (1550.7, -2.45),
            (1550.82, -3.3), (1550.86, -4.6), (1550.9, -6.5), (1550.94, -10.0), (1550.97, -14.2),
            (1551.0, -18.5), (1551.03, -14.2), (1551.06, -10.0), (1551.1, -6.5), (1551.14, -4.6),
            (1551.18, -3.3), (1551.25, -2.5), (1552.5, -2.45), (1554.0, -2.55), (1555.5, -2.6),
            (1557.0, -2.5), (1558.5, -2.6), (1560.0, -2.55), (1561.5, -2.65), (1563.0, -2.55),
            (1564.5, -2.6), (1566.0, -2.5), (1567.5, -2.65), (1569.0, -2.6), (1570.5, -2.55),
            (1572.0, -2.65), (1573.5, -2.6), (1575.0, -2.7), (1576.5, -2.6), (1578.0, -2.65),
            (1580.0, -2.6)]
thru_237 = [(1547.0, -2.5), (1548.5, -2.45), (1550.0, -2.55), (1551.5, -2.45), (1552.5, -2.3),
            (1553.4, -2.35), (1553.64, -3.3), (1553.68, -4.6), (1553.72, -6.5), (1553.76, -10.0),
            (1553.79, -15.0), (1553.82, -20.1), (1553.85, -15.0), (1553.88, -10.0), (1553.92, -6.5),
            (1553.96, -4.6), (1554.0, -3.3), (1554.1, -2.4), (1555.0, -2.25), (1556.0, -2.35),
            (1557.5, -2.5), (1559.0, -2.45), (1560.5, -2.55), (1562.0, -2.5), (1563.5, -2.55),
            (1565.0, -2.45), (1566.5, -2.55), (1568.0, -2.5), (1569.5, -2.6), (1571.0, -2.5),
            (1572.5, -2.55), (1574.0, -2.5), (1575.5, -2.6), (1577.0, -2.55), (1578.5, -2.6),
            (1580.0, -2.55)]
thru_370 = [(1547.0, -2.45), (1548.5, -2.5), (1550.0, -2.4), (1551.5, -2.5), (1553.0, -2.45),
            (1554.5, -2.35), (1555.5, -2.2), (1556.5, -2.15), (1557.3, -2.2), (1557.42, -3.3),
            (1557.46, -4.6), (1557.5, -6.5), (1557.54, -10.0), (1557.57, -14.3), (1557.6, -18.8),
            (1557.63, -14.3), (1557.66, -10.0), (1557.7, -6.5), (1557.74, -4.6), (1557.78, -3.3),
            (1557.9, -2.2), (1559.0, -2.1), (1560.2, -1.98), (1561.2, -2.15), (1562.5, -2.4),
            (1564.0, -2.5), (1565.5, -2.45), (1567.0, -2.55), (1568.5, -2.5), (1570.0, -2.6),
            (1571.5, -2.5), (1573.0, -2.55), (1574.5, -2.5), (1576.0, -2.6), (1577.5, -2.55),
            (1579.0, -2.6), (1580.0, -2.55)]
thru_533 = [(1547.0, -2.5), (1549.0, -2.45), (1551.0, -2.55), (1553.0, -2.5), (1555.0, -2.45),
            (1557.0, -2.5), (1558.5, -2.3), (1560.0, -2.15), (1561.2, -2.1), (1562.1, -2.2),
            (1562.22, -3.3), (1562.26, -4.6), (1562.3, -6.5), (1562.34, -10.0), (1562.37, -15.0),
            (1562.4, -20.2), (1562.43, -15.0), (1562.46, -10.0), (1562.5, -6.5), (1562.54, -4.6),
            (1562.58, -3.3), (1562.7, -2.3), (1564.0, -2.35), (1565.5, -2.5), (1567.0, -2.45),
            (1568.5, -2.55), (1570.0, -2.5), (1571.5, -2.45), (1573.0, -2.55), (1574.5, -2.5),
            (1576.0, -2.55), (1577.5, -2.6), (1579.0, -2.55), (1580.0, -2.6)]
thru_726 = [(1547.0, -2.55), (1549.0, -2.5), (1551.0, -2.6), (1553.0, -2.5), (1555.0, -2.55),
            (1557.0, -2.5), (1559.0, -2.55), (1561.0, -2.5), (1562.5, -2.45), (1563.5, -2.25),
            (1565.0, -2.2), (1566.5, -2.25), (1567.7, -2.4), (1567.8, -3.3), (1567.84, -4.6),
            (1567.88, -6.5), (1567.92, -10.0), (1567.95, -15.2), (1567.98, -20.8), (1568.01, -15.2),
            (1568.04, -10.0), (1568.08, -6.5), (1568.12, -4.6), (1568.16, -3.3), (1568.3, -2.5),
            (1569.5, -2.55), (1571.0, -2.5), (1572.5, -2.6), (1574.0, -2.5), (1575.5, -2.55),
            (1577.0, -2.6), (1578.5, -2.55), (1580.0, -2.6)]
thru_948 = [(1547.0, -2.6), (1549.0, -2.55), (1551.0, -2.65), (1553.0, -2.6), (1555.0, -2.55),
            (1557.0, -2.65), (1559.0, -2.6), (1561.0, -2.55), (1563.0, -2.6), (1565.0, -2.5),
            (1566.5, -2.45), (1568.0, -2.3), (1569.5, -2.05), (1571.0, -2.0), (1572.5, -2.1),
            (1573.5, -2.3), (1573.9, -2.6), (1574.02, -3.3), (1574.06, -4.6), (1574.1, -6.5),
            (1574.14, -10.0), (1574.17, -15.5), (1574.2, -21.6), (1574.23, -15.5), (1574.26, -10.0),
            (1574.3, -6.5), (1574.34, -4.6), (1574.38, -3.3), (1574.5, -2.45), (1576.0, -2.5),
            (1577.5, -2.6), (1579.0, -2.55), (1580.0, -2.6)]
thru_1200 = [(1547.0, -2.8), (1548.5, -2.85), (1550.0, -2.75), (1551.5, -2.85), (1553.0, -2.8),
             (1554.5, -2.9), (1556.0, -2.8), (1557.5, -2.85), (1559.0, -2.75), (1560.5, -2.85),
             (1562.0, -2.8), (1563.5, -2.9), (1565.0, -2.8), (1566.5, -2.85), (1568.0, -2.75),
             (1569.5, -2.85), (1571.0, -2.8), (1572.5, -2.9), (1574.0, -2.8), (1575.5, -2.85),
             (1577.0, -2.8), (1578.5, -2.9), (1579.5, -2.85), (1580.0, -2.95)]

# right panel: relative wavelength (nm) and transmission (dB)
rel_wl = [-0.5, -0.46, -0.42, -0.38, -0.34, -0.3, -0.26, -0.22, -0.18, -0.14, -0.12, -0.1,
          -0.08, -0.06, -0.04, -0.02, 0.0, 0.02, 0.04, 0.06, 0.08, 0.1, 0.12, 0.14, 0.18,
          0.22, 0.26, 0.3, 0.34, 0.38, 0.42, 0.46, 0.5]
thru_r_00 = [-2.75, -2.65, -2.6, -2.6, -2.7, -2.85, -3.1, -3.2, -3.6, -4.3, -5.2, -6.4, -8.4, -11.5, -14.8, -16.8, -17.7, -14.2, -10.4, -6.4, -5.2, -4.5, -3.9, -3.45, -3.0, -2.85, -2.75, -2.75, -2.7, -2.65, -2.6, -2.55, -2.5]
thru_r_15 = [-2.7, -2.6, -2.55, -2.6, -2.65, -2.8, -3.05, -3.2, -3.55, -4.2, -5.0, -6.2, -8.2, -11.2, -14.6, -17.0, -18.0, -14.6, -10.8, -6.6, -5.3, -4.5, -3.9, -3.4, -2.95, -2.8, -2.75, -2.7, -2.7, -2.6, -2.55, -2.5, -2.45]
thru_r_59 = [-2.65, -2.6, -2.55, -2.55, -2.65, -2.8, -3.0, -3.15, -3.5, -4.2, -5.0, -6.1, -8.0, -11.0, -14.4, -17.2, -18.5, -15.0, -11.0, -6.8, -5.4, -4.6, -3.9, -3.4, -2.95, -2.8, -2.7, -2.7, -2.65, -2.6, -2.55, -2.45, -2.4]
thru_r_133 = [-2.6, -2.55, -2.5, -2.55, -2.6, -2.75, -3.0, -3.1, -3.45, -4.1, -4.9, -6.0, -7.8, -10.8, -14.2, -17.4, -18.8, -15.4, -11.2, -7.0, -5.5, -4.6, -3.95, -3.4, -2.95, -2.8, -2.7, -2.65, -2.6, -2.55, -2.5, -2.45, -2.4]
thru_r_237 = [-2.55, -2.5, -2.5, -2.5, -2.6, -2.75, -2.95, -3.1, -3.4, -4.1, -4.9, -5.9, -7.6, -10.4, -14.0, -17.5, -19.5, -16.0, -11.6, -7.2, -5.6, -4.7, -4.0, -3.45, -3.0, -2.8, -2.7, -2.6, -2.6, -2.5, -2.45, -2.4, -2.35]
thru_r_370 = [-2.55, -2.5, -2.45, -2.5, -2.6, -2.7, -2.9, -3.05, -3.35, -3.9, -4.6, -5.5, -6.5, -8.5, -11.5, -15.5, -18.8, -18.5, -14.0, -9.5, -6.5, -5.0, -4.2, -3.6, -3.05, -2.85, -2.7, -2.6, -2.55, -2.5, -2.45, -2.4, -2.35]
thru_r_533 = [-2.55, -2.5, -2.5, -2.55, -2.65, -2.8, -3.1, -3.25, -3.6, -4.2, -5.0, -6.2, -8.2, -11.5, -15.5, -19.0, -19.5, -15.0, -11.0, -6.8, -5.3, -4.5, -3.9, -3.4, -2.9, -2.75, -2.65, -2.6, -2.55, -2.5, -2.45, -2.4, -2.35]
thru_r_726 = [-2.5, -2.5, -2.45, -2.5, -2.6, -2.8, -3.05, -3.2, -3.55, -4.2, -5.0, -6.1, -8.0, -11.8, -16.0, -19.9, -20.5, -14.5, -10.0, -6.5, -5.1, -4.4, -3.8, -3.3, -2.85, -2.7, -2.6, -2.6, -2.5, -2.45, -2.4, -2.4, -2.35]
thru_r_948 = [-2.45, -2.45, -2.45, -2.5, -2.6, -2.75, -3.0, -3.15, -3.5, -4.1, -4.9, -6.0, -7.8, -10.8, -15.0, -18.8, -20.8, -15.2, -10.5, -6.6, -5.1, -4.3, -3.7, -3.25, -2.85, -2.7, -2.6, -2.55, -2.5, -2.45, -2.4, -2.35, -2.3]
thru_r_1200 = [-2.35, -2.4, -2.4, -2.45, -2.55, -2.7, -2.95, -3.1, -3.45, -4.0, -4.8, -5.9, -7.6, -10.5, -14.5, -18.5, -21.6, -15.5, -10.5, -6.4, -4.9, -4.2, -3.6, -3.2, -2.8, -2.65, -2.55, -2.5, -2.45, -2.4, -2.35, -2.3, -2.3]
drop_r_00 = [-21.0, -20.5, -19.7, -18.7, -17.7, -16.7, -15.7, -14.6, -13.3, -11.9, -11.0, -10.2, -9.4, -8.8, -8.5, -8.3, -8.0, -8.1, -8.3, -9.0, -9.9, -11.2, -12.0, -12.9, -14.7, -16.1, -17.6, -18.9, -20.1, -21.0, -21.8, -22.4, -23.0]
drop_r_15 = [-20.9, -20.3, -19.6, -18.6, -17.6, -16.6, -15.6, -14.4, -13.1, -11.7, -10.9, -10.1, -9.3, -8.7, -8.4, -8.2, -8.3, -8.2, -8.2, -8.8, -9.7, -11.0, -11.8, -12.7, -14.5, -15.9, -17.4, -18.7, -19.9, -20.8, -21.6, -22.2, -22.7]
drop_r_59 = [-20.8, -20.2, -19.5, -18.5, -17.5, -16.5, -15.4, -14.3, -12.9, -11.5, -10.7, -9.9, -9.1, -8.5, -8.2, -8.0, -7.9, -7.9, -8.0, -8.7, -9.6, -10.8, -11.7, -12.6, -14.4, -15.8, -17.2, -18.5, -19.7, -20.6, -21.4, -22.0, -22.5]
drop_r_133 = [-20.7, -20.1, -19.3, -18.4, -17.4, -16.4, -15.3, -14.1, -12.8, -11.4, -10.6, -9.8, -9.0, -8.3, -7.9, -7.7, -7.6, -7.7, -7.8, -8.6, -9.5, -10.7, -11.6, -12.5, -14.3, -15.7, -17.1, -18.4, -19.6, -20.5, -21.3, -21.9, -22.3]
drop_r_237 = [-20.7, -20.0, -19.2, -18.3, -17.3, -16.2, -15.2, -14.0, -12.6, -11.2, -10.4, -9.6, -8.8, -8.0, -7.6, -7.4, -7.5, -7.5, -7.7, -8.5, -9.4, -10.5, -11.4, -12.3, -14.1, -15.5, -16.9, -18.1, -19.3, -20.3, -21.0, -21.6, -22.1]
drop_r_370 = [-20.7, -20.0, -19.3, -18.2, -17.0, -15.9, -15.0, -13.8, -12.4, -10.9, -10.2, -9.4, -8.5, -7.8, -7.5, -7.3, -7.6, -7.4, -7.3, -8.0, -9.0, -10.0, -10.9, -11.8, -13.3, -13.9, -15.6, -16.9, -18.1, -18.9, -19.9, -20.3, -21.0]
drop_r_533 = [-20.6, -20.0, -19.1, -18.1, -17.0, -15.9, -14.9, -13.7, -12.2, -10.7, -10.0, -9.2, -8.1, -7.6, -7.4, -7.3, -7.3, -7.5, -7.6, -8.4, -9.3, -10.5, -11.4, -12.3, -14.1, -15.4, -16.8, -18.0, -19.2, -20.1, -20.6, -21.2, -21.8]
drop_r_726 = [-20.6, -20.1, -19.2, -18.3, -17.0, -16.0, -14.9, -13.8, -12.3, -10.8, -10.1, -9.3, -8.2, -7.6, -7.4, -7.3, -7.2, -7.3, -7.5, -8.4, -9.4, -10.6, -11.5, -12.4, -14.2, -15.5, -16.9, -18.0, -19.2, -20.2, -20.8, -20.4, -21.8]
drop_r_948 = [-20.3, -19.9, -19.1, -18.2, -17.1, -16.1, -15.0, -13.9, -12.4, -10.9, -10.2, -9.4, -8.3, -7.7, -7.5, -7.4, -7.3, -7.2, -7.6, -8.5, -9.4, -10.5, -11.4, -12.3, -14.1, -15.6, -17.0, -18.2, -19.3, -20.2, -21.0, -21.5, -22.0]
drop_r_1200 = [-20.1, -19.8, -19.0, -18.2, -17.3, -16.2, -15.0, -13.9, -12.5, -10.9, -10.2, -9.4, -8.4, -7.8, -7.6, -7.5, -7.2, -7.0, -7.6, -8.5, -9.4, -10.5, -11.4, -12.3, -14.0, -15.6, -17.0, -18.2, -19.3, -20.2, -21.0, -21.5, -22.0]

drops = [drop_00, drop_15, drop_59, drop_133, drop_237, drop_370, drop_533, drop_726, drop_948, drop_1200]
thrus = [thru_00, thru_15, thru_59, thru_133, thru_237, thru_370, thru_533, thru_726, thru_948, thru_1200]
drops_r = [drop_r_00, drop_r_15, drop_r_59, drop_r_133, drop_r_237, drop_r_370, drop_r_533, drop_r_726, drop_r_948, drop_r_1200]
thrus_r = [thru_r_00, thru_r_15, thru_r_59, thru_r_133, thru_r_237, thru_r_370, thru_r_533, thru_r_726, thru_r_948, thru_r_1200]

span_start = 1548.2    # left end of the 32 nm arrow
span_end = 1580.0
marker_wl = 1576.0     # black triangle


# Figure
# -----------------------------------------------------------------------------

W, H = 3920, 1799
fig = plt.figure(figsize=(W / 100, H / 100), dpi=100)

# left panel: full spectrum
ax1 = fig.add_axes([318 / W, 1 - 1612 / H, (2204 - 318) / W, (1612 - 208) / H])
for drop, thru, col in zip(drops, thrus, line_colors):
    x, y = zip(*drop)
    ax1.plot(x, y, color=col, lw=6.5)
    x, y = zip(*thru)
    ax1.plot(x, y, color=col, lw=6.5)

ax1.set_xlim(1547, 1580)
ax1.set_ylim(-50, 0)
ax1.set_xticks([1550, 1555, 1560, 1565, 1570, 1575, 1580])
ax1.set_yticks([0, -10, -20, -30, -40, -50])
ax1.spines["top"].set_visible(False)
ax1.spines["right"].set_bounds(-50, -1.5)
for s in ax1.spines.values():
    s.set_linewidth(3)
    s.set_color("black")
ax1.tick_params(direction="out", length=13, width=2.5, labelsize=48, pad=12,
                labelcolor=ink, labelfontfamily=narrow)
ax1.set_xlabel("Wavelength (nm)", fontsize=50, family=label_font, color=ink, labelpad=14)
ax1.set_ylabel("Transmission (dB)", fontsize=50, family=label_font, color=ink, labelpad=24)

# 32 nm span arrow
mid = (span_start + span_end) / 2
style = ArrowStyle("Simple", head_length=50, head_width=27, tail_width=12)
for end in (span_start, span_end):
    arr = FancyArrowPatch((mid, 0), (end, 0), arrowstyle=style, mutation_scale=1,
                          color=red, lw=0, shrinkA=0, shrinkB=0,
                          transform=ax1.transData, clip_on=False)
    ax1.add_patch(arr)
ax1.text(mid, 1.0, "32 nm", color=red, fontsize=53, fontweight="bold",
         family=narrow, ha="center", va="baseline")

# marker triangle
tri = [(-1, 0.866), (1, 0.866), (0, -0.866)]
ax1.plot([marker_wl], [4.76], marker=tri, markersize=72, color=ink,
         ls="none", clip_on=False)

# right panel: zoom on resonance
ax2 = fig.add_axes([2470 / W, 1 - 1618 / H, (3876 - 2470) / W, (1618 - 571) / H])
for drop, thru, col in zip(drops_r, thrus_r, line_colors):
    ax2.plot(rel_wl, drop, color=col, lw=3.5)
    ax2.plot(rel_wl, thru, color=col, lw=3.5)
ax2.set_xlim(-0.5, 0.5)
ax2.set_ylim(-25, 0)
ax2.set_xticks([-0.4, -0.2, 0.0, 0.2, 0.4])
ax2.set_xticklabels(["-0.4", "-0.2", "0.0", "0.2", "0.4"])
ax2.set_yticks([0, -5, -10, -15, -20, -25])
ax2.grid(True, color="#b5b5b5", lw=2)
ax2.set_axisbelow(True)
for s in ax2.spines.values():
    s.set_linewidth(2.5)
    s.set_color("black")
ax2.tick_params(direction="out", length=9, width=2, labelsize=48, pad=6,
                labelcolor=ink, labelfontfamily=narrow)
ax2.set_xlabel("Relative wavelength (nm)", fontsize=50, family=label_font, color=ink, labelpad=14)
ax2.set_ylabel("Transmission (dB)", fontsize=50, family=label_font, color=ink, labelpad=2)

# legend
handles = [Patch(facecolor=c, edgecolor="none") for c in legend_colors]
fig.legend(handles, series, ncol=2, loc="upper left",
           bbox_to_anchor=(2760 / W, 1 - 30 / H), frameon=False,
           prop={"family": narrow, "size": 63}, labelcolor=ink,
           handlelength=1.61, handleheight=0.46, handletextpad=0.65,
           columnspacing=1.33, labelspacing=0.2, borderpad=0, borderaxespad=0)

# frame line on the left edge
fig.add_artist(Line2D([13 / W, 13 / W], [0, 1], transform=fig.transFigure,
                      color=ink, lw=7))

fig.savefig("out.png", dpi=100)
